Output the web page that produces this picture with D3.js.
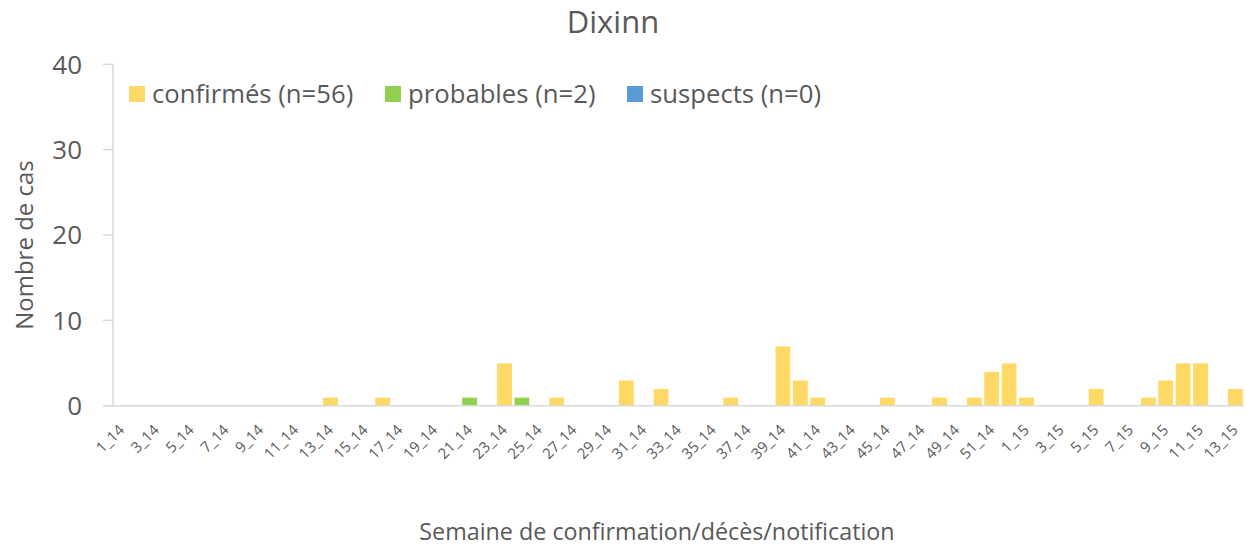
<!DOCTYPE html>
<html>
<head>
<meta charset="utf-8">
<script src="https://cdn.jsdelivr.net/npm/d3@7"></script>
<style>
  body { margin: 0; background: #fff; }
  text { font-family: "Open Sans", sans-serif; fill: #595959; }
</style>
</head>
<body>
<div id="chart"></div>
<script>
// weeks 1_14 .. 52_14 then 1_15 .. 13_15
var weeks = [];
for (var w = 1; w <= 52; w++) weeks.push(w + '_14');
for (var w = 1; w <= 13; w++) weeks.push(w + '_15');

// non-zero counts per week
var confirmedWeeks = ['13_14','16_14','23_14','26_14','30_14','32_14','36_14','39_14','40_14','41_14','45_14','48_14','50_14','51_14','52_14','1_15','5_15','8_15','9_15','10_15','11_15','13_15'];
var confirmedValues = [1,1,5,1,3,2,1,7,3,1,1,1,1,4,5,1,2,1,3,5,5,2];
var probableWeeks = ['21_14','24_14'];
var probableValues = [1,1];
var suspectWeeks = [];
var suspectValues = [];

var seriesNames = ['confirmés (n=56)', 'probables (n=2)', 'suspects (n=0)'];
var seriesKeys = ['confirmes', 'probables', 'suspects'];
var colors = ['#FFD966', '#92D050', '#5B9BD5'];
var yTicks = [0, 10, 20, 30, 40];

var width = 1246, height = 548;
var margin = {left: 113, right: 2, top: 64.3, bottom: 142.3};

function lookup(ws, vs) {
    var m = {};
    ws.forEach(function(d, i) { m[d] = vs[i]; });
    return m;
}
var cMap = lookup(confirmedWeeks, confirmedValues),
    pMap = lookup(probableWeeks, probableValues),
    sMap = lookup(suspectWeeks, suspectValues);

var table = weeks.map(function(wk) {
    return {week: wk, confirmes: cMap[wk] || 0, probables: pMap[wk] || 0, suspects: sMap[wk] || 0};
});

var svg = d3.select('#chart').append('svg')
    .attr('width', width)
    .attr('height', height);

var x = d3.scaleBand()
    .domain(weeks)
    .range([margin.left, width - margin.right])
    .paddingInner(0.1)
    .paddingOuter(0.05);

var y = d3.scaleLinear()
    .domain([0, 40])
    .range([height - margin.bottom, margin.top]);

// y axis
var yAxis = svg.append('g');
yAxis.append('line')
    .attr('x1', margin.left).attr('x2', margin.left)
    .attr('y1', y(40)).attr('y2', y(0))
    .attr('stroke', '#D9D9D9').attr('stroke-width', 1.5);
yAxis.selectAll('.tick').data(yTicks).enter().append('line')
    .attr('x1', margin.left - 10).attr('x2', margin.left)
    .attr('y1', function(d) { return y(d); })
    .attr('y2', function(d) { return y(d); })
    .attr('stroke', '#D9D9D9').attr('stroke-width', 1.5);
yAxis.selectAll('.lab').data(yTicks).enter().append('text')
    .attr('x', 82)
    .attr('y', function(d) { return y(d); })
    .attr('dy', '0.36em')
    .attr('text-anchor', 'end')
    .style('font-size', '26px')
    .text(function(d) { return d; });

// stacked bars
var stack = d3.stack().keys(seriesKeys)(table);
svg.append('g').selectAll('g')
    .data(stack).enter().append('g')
    .attr('fill', function(d, i) { return colors[i]; })
    .selectAll('rect')
    .data(function(d) { return d.filter(function(p) { return p[1] - p[0] > 0; }); })
    .enter().append('rect')
    .attr('x', function(d) { return x(d.data.week); })
    .attr('width', x.bandwidth())
    .attr('y', function(d) { return y(d[1]); })
    .attr('height', function(d) { return y(d[0]) - y(d[1]); })
    .attr('stroke', '#fff')
    .attr('stroke-width', 0.8);

// x axis line
svg.append('line')
    .attr('x1', margin.left - 10).attr('x2', width - margin.right)
    .attr('y1', y(0)).attr('y2', y(0))
    .attr('stroke', '#D9D9D9').attr('stroke-width', 1.5);

// x labels, every other week, rotated
svg.append('g').selectAll('text')
    .data(weeks.filter(function(d, i) { return i % 2 === 0; }))
    .enter().append('text')
    .attr('transform', function(d) {
        return 'translate(' + (x(d) + x.bandwidth() / 2 + 3.5) + ',431) rotate(-45)';
    })
    .attr('text-anchor', 'end')
    .style('font-size', '15px')
    .text(function(d) { return d; });

// title
svg.append('text')
    .attr('x', 613).attr('y', 33)
    .attr('text-anchor', 'middle')
    .style('font-size', '31px')
    .text('Dixinn');

// y title
svg.append('text')
    .attr('transform', 'translate(33,245) rotate(-90)')
    .attr('text-anchor', 'middle')
    .style('font-size', '24px')
    .text('Nombre de cas');

// x title
svg.append('text')
    .attr('x', 657).attr('y', 540)
    .attr('text-anchor', 'middle')
    .style('font-size', '23.3px')
    .text('Semaine de confirmation/décès/notification');

// legend
var legendX = [129, 385, 627];
var legend = svg.append('g').selectAll('g')
    .data(seriesNames).enter().append('g')
    .attr('transform', function(d, i) { return 'translate(' + legendX[i] + ',86)'; });
legend.append('rect')
    .attr('width', 16).attr('height', 16)
    .attr('fill', function(d, i) { return colors[i]; });
legend.append('text')
    .attr('x', 23).attr('y', 17)
    .style('font-size', '25.7px')
    .text(function(d) { return d; });
</script>
</body>
</html>
